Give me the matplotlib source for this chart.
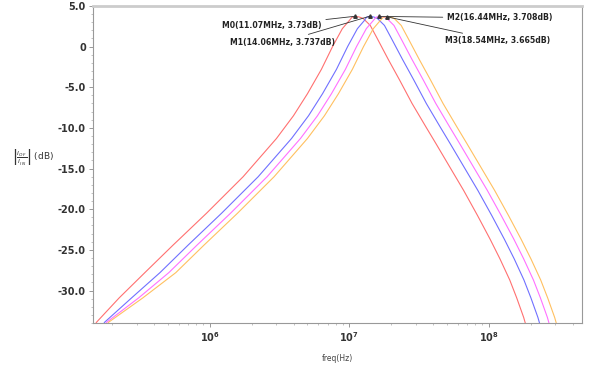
import matplotlib
matplotlib.use("Agg")
import matplotlib.pyplot as plt
import numpy as np
from matplotlib.ticker import FixedLocator, NullFormatter, LogLocator

# frequency in MHz, magnitude in dB
db_shape = [-34.8, -33.9, -30.9, -27.8, -24.4, -20.5, -16.0, -11.3, -8.5, -5.8, -2.8,
            0.0, 2.2, 3.2, 3.6]
db_tail = [3.62, 3.45, 2.6, 1.0, -1.6, -4.1, -7.0, -9.9,
           -11.9, -14.8, -17.7, -20.8, -23.7, -26.1, -28.7, -30.9, -33.3, -34.5]

f_m0 = [0.145, 0.154, 0.224, 0.342, 0.546, 0.946, 1.734, 3.006, 3.981, 5.012, 6.310,
        7.586, 8.913, 10.0, 10.45, 11.07, 11.86, 12.59, 14.13, 15.85, 19.05, 22.91, 28.18, 35.48,
        41.69, 52.48, 66.07, 83.18, 102.3, 120.2, 141.3, 158.5, 177.8, 186.2]
db_m0 = db_shape + [3.73] + db_tail

f_m1 = [0.164, 0.176, 0.275, 0.439, 0.700, 1.213, 2.223, 3.855, 5.105, 6.427, 8.091,
        9.727, 11.43, 12.82, 13.27, 14.06, 15.07, 15.92, 17.86, 20.04, 24.10, 28.97, 35.65, 44.87,
        52.72, 66.37, 83.56, 105.2, 129.4, 152.1, 178.6, 200.4, 224.9, 235.5]
db_m1 = db_shape + [3.737] + db_tail

f_m2 = [0.170, 0.182, 0.309, 0.508, 0.811, 1.406, 2.576, 4.467, 5.916, 7.447, 9.376,
        11.27, 13.24, 14.86, 15.52, 16.44, 17.62, 18.62, 20.89, 23.44, 28.18, 33.88, 41.69, 52.48,
        61.66, 77.62, 97.72, 123.0, 151.4, 177.8, 208.9, 234.4, 263.0, 275.4]
db_m2 = db_shape + [3.708] + db_tail

f_m3 = [0.174, 0.188, 0.331, 0.570, 0.910, 1.578, 2.891, 5.012, 6.637, 8.356, 10.52,
        12.65, 14.86, 16.67, 17.50, 18.54, 19.86, 20.99, 23.55, 26.42, 31.77, 38.19, 46.99, 59.16,
        69.50, 87.50, 110.2, 138.7, 170.6, 200.4, 235.5, 264.2, 296.5, 310.5]
db_m3 = db_shape + [3.665] + db_tail

curves = [(f_m0, db_m0, '#ff7070'), (f_m1, db_m1, '#7070ff'),
          (f_m2, db_m2, '#ff70ff'), (f_m3, db_m3, '#ffc060')]

marker_f = [11.07, 14.06, 16.44, 18.54]
marker_db = [3.73, 3.737, 3.708, 3.665]
marker_text = ['M0(11.07MHz, 3.73dB)', 'M1(14.06MHz, 3.737dB)',
               'M2(16.44MHz, 3.708dB)', 'M3(18.54MHz, 3.665dB)']

y_ticks = [5.0, 0, -5.0, -10.0, -15.0, -20.0, -25.0, -30.0]
x_ticks = [1e6, 1e7, 1e8]

fig = plt.figure(figsize=(5.95, 3.68), dpi=100)
ax = fig.add_axes([0.156, 0.122, 0.822, 0.862])

for f, db, col in curves:
    ax.plot(np.array(f) * 1e6, db, color=col, lw=0.8)

ax.plot(np.array(marker_f) * 1e6, marker_db, ls='none', marker='^', ms=2.5, color='#333333')

ax.set_xscale('log')
ax.set_xlim(1.45e5, 4.65e8)
ax.set_ylim(-34, 5)

# label positions in axes-fraction, pointing to each peak
label_pos = [(0.468, 0.938, 'right'), (0.495, 0.886, 'right'),
             (0.724, 0.962, 'left'), (0.72, 0.89, 'left')]
for mf, md, txt, (lx, ly, ha) in zip(marker_f, marker_db, marker_text, label_pos):
    ax.annotate(txt, xy=(mf * 1e6, md), xycoords='data',
                xytext=(lx, ly), textcoords='axes fraction',
                ha=ha, va='center', fontsize=5.6, fontweight='bold', color='#222222',
                arrowprops=dict(arrowstyle='-', color='#333333', lw=0.6,
                                shrinkA=1, shrinkB=0))

ax.yaxis.set_major_locator(FixedLocator(y_ticks))
ax.set_yticklabels(['0' if t == 0 else '%.1f' % t for t in y_ticks])
ax.yaxis.set_minor_locator(FixedLocator(np.arange(-34, 5.1, 1.0)))
ax.xaxis.set_major_locator(FixedLocator(x_ticks))
ax.set_xticklabels([r'$\mathbf{10^{6}}$', r'$\mathbf{10^{7}}$', r'$\mathbf{10^{8}}$'])
ax.xaxis.set_minor_locator(LogLocator(base=10, subs=np.arange(2, 10), numticks=20))
ax.xaxis.set_minor_formatter(NullFormatter())

for lab in ax.get_yticklabels():
    lab.set_fontweight('bold')
ax.tick_params(axis='both', which='major', labelsize=7, length=3, width=0.6,
               color='#888888', labelcolor='#333333', pad=2)
ax.tick_params(axis='x', which='major', pad=2)
ax.tick_params(axis='both', which='minor', length=1.5, width=0.5, color='#aaaaaa')

for side in ['left', 'bottom', 'right']:
    ax.spines[side].set_color('#999999')
    ax.spines[side].set_linewidth(0.8)
ax.spines['top'].set_color('#cccccc')
ax.spines['top'].set_linewidth(2.0)

ax.set_xlabel('freq(Hz)', fontsize=5.5, color='#444444', labelpad=7)
fig.text(0.02, 0.573, r'$\left|\frac{I_{OF}}{I_{IN}}\right|$ (dB)', fontsize=6.5,
         color='#333333', va='center', ha='left')

fig.savefig('out.png', dpi=100)
